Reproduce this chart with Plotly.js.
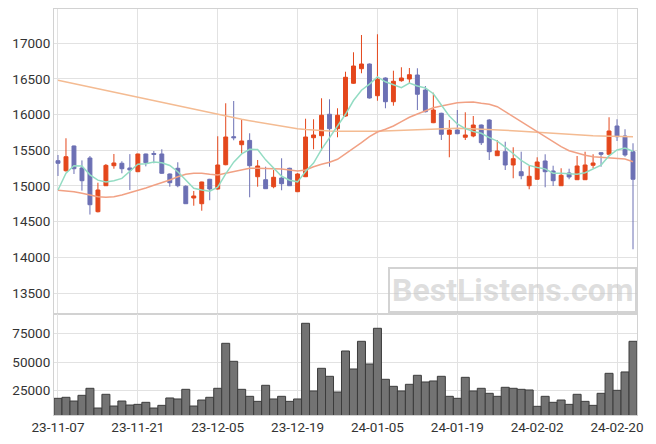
<!DOCTYPE html>
<html><head><meta charset="utf-8">
<script src="https://cdn.plot.ly/plotly-3.0.1.min.js"></script>
<style>html,body{margin:0;padding:0;background:#fff}#chart{width:656px;height:444px}</style>
</head><body><div id="chart"></div>
<script>
const dates = ['23-11-07','23-11-08','23-11-09','23-11-10','23-11-13','23-11-14','23-11-15','23-11-16','23-11-17','23-11-20',
'23-11-21','23-11-22','23-11-23','23-11-24','23-11-27','23-11-28','23-11-29','23-11-30','23-12-01','23-12-04',
'23-12-05','23-12-06','23-12-07','23-12-08','23-12-11','23-12-12','23-12-13','23-12-14','23-12-15','23-12-18',
'23-12-19','23-12-20','23-12-21','23-12-22','23-12-26','23-12-27','23-12-28','24-01-02','24-01-03','24-01-04',
'24-01-05','24-01-08','24-01-09','24-01-10','24-01-11','24-01-12','24-01-15','24-01-16','24-01-17','24-01-18',
'24-01-19','24-01-22','24-01-23','24-01-24','24-01-25','24-01-26','24-01-29','24-01-30','24-01-31','24-02-01',
'24-02-02','24-02-05','24-02-06','24-02-07','24-02-08','24-02-13','24-02-14','24-02-15','24-02-16','24-02-19',
'24-02-20','24-02-21','24-02-22'];

const openP = [15354,15214,15560,15252,15392,14640,15004,15284,15318,15252,
15200,15448,15455,15448,15168,15248,14996,14832,14752,15094,
14958,15298,15690,15578,15638,15130,15088,14990,15112,15248,
14920,15130,15676,15704,16004,15802,15980,16438,16642,16708,
16264,16512,16180,16474,16498,16554,16344,15886,16018,15724,
15784,15682,15700,15854,15924,15424,15480,15294,15200,15004,
15094,15350,15210,15004,15182,15088,15088,15290,15466,15444,
15840,15700,15480];
const highP = [15434,15668,15565,15358,15420,15046,15308,15448,15346,15446,
15452,15452,15490,15514,15175,15332,15010,14930,15060,15100,
15696,16158,16190,15924,15738,15364,15270,15224,15388,15255,
15180,15942,15934,16228,16214,16088,16600,16872,17114,16715,
17124,16520,16614,16662,16652,16648,16400,16306,16025,15924,
16064,16032,15980,15860,15934,15644,15620,15542,15480,15280,
15402,15444,15284,15248,15242,15420,15480,15444,15470,15962,
15934,15794,15598];
const lowP = [15140,15200,15168,14935,14600,14630,15000,15242,15178,14944,
15195,15275,15318,15170,14990,14982,14748,14724,14654,14800,
14950,15290,15640,15452,14842,14990,14960,14968,14940,15000,
14915,15125,15514,15494,15270,15682,15970,16430,16578,16225,
16194,16088,16124,16460,16428,16064,16030,15880,15644,15402,
15725,15644,15682,15574,15364,15420,15224,15108,15094,14954,
15090,14982,15000,15000,15094,15085,15085,15248,15270,15440,
15630,15410,14114];
const closeP = [15318,15410,15242,15074,14738,14944,15289,15322,15242,15224,
15448,15326,15443,15178,15046,15004,14752,14860,15056,14958,
15294,15686,15676,15630,15284,15280,14962,15122,15032,15004,
15168,15686,15714,15990,15802,15990,16522,16680,16708,16232,
16494,16180,16466,16512,16558,16284,16040,16064,15724,15784,
15732,15714,15854,15606,15480,15490,15294,15382,15144,15136,
15336,15200,15074,15150,15126,15280,15294,15322,15444,15770,
15690,15434,15094];
const volume = [17930,18820,15550,20580,26770,9360,21470,11130,15550,12010,
12600,14400,9360,11720,18230,17350,25880,11130,16430,18820,
26770,66520,50620,25880,19700,15260,29420,17350,19700,15260,
17350,84190,24410,44430,37370,23500,59720,43820,68280,48240,
79770,34720,28530,24410,30300,38250,32360,33240,37370,19700,
17930,36480,24410,26770,22350,19700,27650,26770,25880,25300,
10870,19700,14400,16430,12600,21470,15260,11720,22350,40000,
25000,41200,68280];
const ma5 = [14944,15178,15284,15280,15156,15082,15057,15073,15107,15204,
15305,15312,15337,15324,15288,15199,15085,14968,14944,14926,
14984,15171,15334,15449,15514,15511,15366,15256,15136,15080,
15058,15202,15321,15512,15672,15836,16004,16197,16340,16426,
16527,16459,16416,16377,16442,16400,16372,16292,16134,15979,
15869,15804,15762,15738,15677,15629,15545,15450,15358,15289,
15258,15240,15178,15179,15177,15166,15185,15234,15293,15422,
15504,15532,15486];
const ma20 = [14940,14935,14920,14898,14874,14850,14842,14850,14874,14906,
14934,14972,15010,15046,15084,15130,15164,15178,15178,15164,
15154,15178,15200,15224,15248,15250,15248,15242,15238,15225,
15210,15224,15270,15304,15332,15374,15448,15528,15606,15690,
15756,15794,15840,15900,15962,16008,16050,16095,16120,16144,
16166,16172,16176,16158,16144,16110,16040,15970,15900,15830,
15760,15690,15620,15550,15494,15458,15430,15410,15402,15392,
15388,15378,15340];
const ma60 = [16480,16456,16432,16408,16384,16360,16337,16313,16289,16265,
16241,16217,16193,16169,16145,16121,16097,16073,16049,16025,
16000,15978,15957,15935,15914,15894,15874,15854,15835,15816,
15800,15790,15781,15774,15769,15765,15763,15762,15763,15765,
15768,15772,15777,15784,15790,15796,15802,15806,15808,15809,
15808,15806,15802,15797,15792,15786,15780,15774,15768,15760,
15752,15744,15736,15728,15721,15714,15708,15703,15699,15695,
15692,15690,15688];
const tickDates = ['23-11-07','23-11-21','23-12-05','23-12-19','24-01-05','24-01-19','24-02-02','24-02-20'];
const priceTicks = [13500,14000,14500,15000,15500,16000,16500,17000];
const volTicks = [25000,50000,75000];

const UP = '#e4471c', DOWN = '#6c70b4';
const traces = [
  {type:'scatter', mode:'lines', x:dates, y:ma60, xaxis:'x', yaxis:'y', line:{color:'#f4bb92', width:1.5}, hoverinfo:'skip'},
  {type:'scatter', mode:'lines', x:dates, y:ma20, xaxis:'x', yaxis:'y', line:{color:'#f1a184', width:1.5}, hoverinfo:'skip'},
  {type:'scatter', mode:'lines', x:dates, y:ma5, xaxis:'x', yaxis:'y', line:{color:'#93dcc3', width:1.5}, hoverinfo:'skip'},
  {type:'candlestick', x:dates, open:openP, high:highP, low:lowP, close:closeP, xaxis:'x', yaxis:'y',
   increasing:{line:{color:UP, width:1}, fillcolor:UP}, decreasing:{line:{color:DOWN, width:1}, fillcolor:DOWN}, whiskerwidth:0},
  {type:'bar', x:dates, y:volume, xaxis:'x2', yaxis:'y2', marker:{color:'#737373', line:{color:'#3c3c3c', width:1}}}
];
const gridc = '#e2e2e2', linec = '#d2d2d2';
const layout = {
  width:656, height:444,
  margin:{l:54, r:19, t:9, b:29},
  paper_bgcolor:'#fff', plot_bgcolor:'#fff',
  showlegend:false, bargap:0,
  font:{family:'Roboto, sans-serif', size:13, color:'#333'},
  xaxis:{type:'category', categoryorder:'array', categoryarray:dates, range:[-0.5,72.5], anchor:'y',
    tickvals:tickDates, showticklabels:false, showgrid:true, gridcolor:gridc, ticks:'',
    showline:true, mirror:true, linecolor:linec, zeroline:false, rangeslider:{visible:false}},
  xaxis2:{type:'category', categoryorder:'array', categoryarray:dates, range:[-0.5,72.5], anchor:'y2',
    tickvals:tickDates, ticktext:tickDates, showgrid:true, gridcolor:gridc, ticks:'',
    showline:true, mirror:true, linecolor:linec, zeroline:false, tickfont:{size:13.5, color:'#333'}},
  yaxis:{domain:[0.2488,1], range:[13208,17478], tickvals:priceTicks, tickformat:'d', showgrid:true, gridcolor:gridc,
    showline:true, mirror:true, linecolor:linec, zeroline:false, ticks:'', tickfont:{size:13.5, color:'#333'}},
  yaxis2:{domain:[0,0.2488], range:[3200,92400], tickvals:volTicks, tickformat:'d', showgrid:true, gridcolor:gridc,
    showline:true, mirror:true, linecolor:linec, zeroline:false, ticks:'', tickfont:{size:13.5, color:'#333'}},
  annotations:[{xref:'paper', yref:'paper', x:0.7856, y:0.3079, xanchor:'center', yanchor:'middle', showarrow:false,
    text:'<b>BestListens.com</b>', font:{family:'Roboto, sans-serif', size:32, color:'rgba(200,200,200,0.6)'},
    bordercolor:'rgba(200,200,200,0.8)', borderwidth:2, borderpad:2, bgcolor:'rgba(255,255,255,0)'}]
};
Plotly.newPlot('chart', traces, layout, {displayModeBar:false, staticPlot:true});
</script></body></html>
